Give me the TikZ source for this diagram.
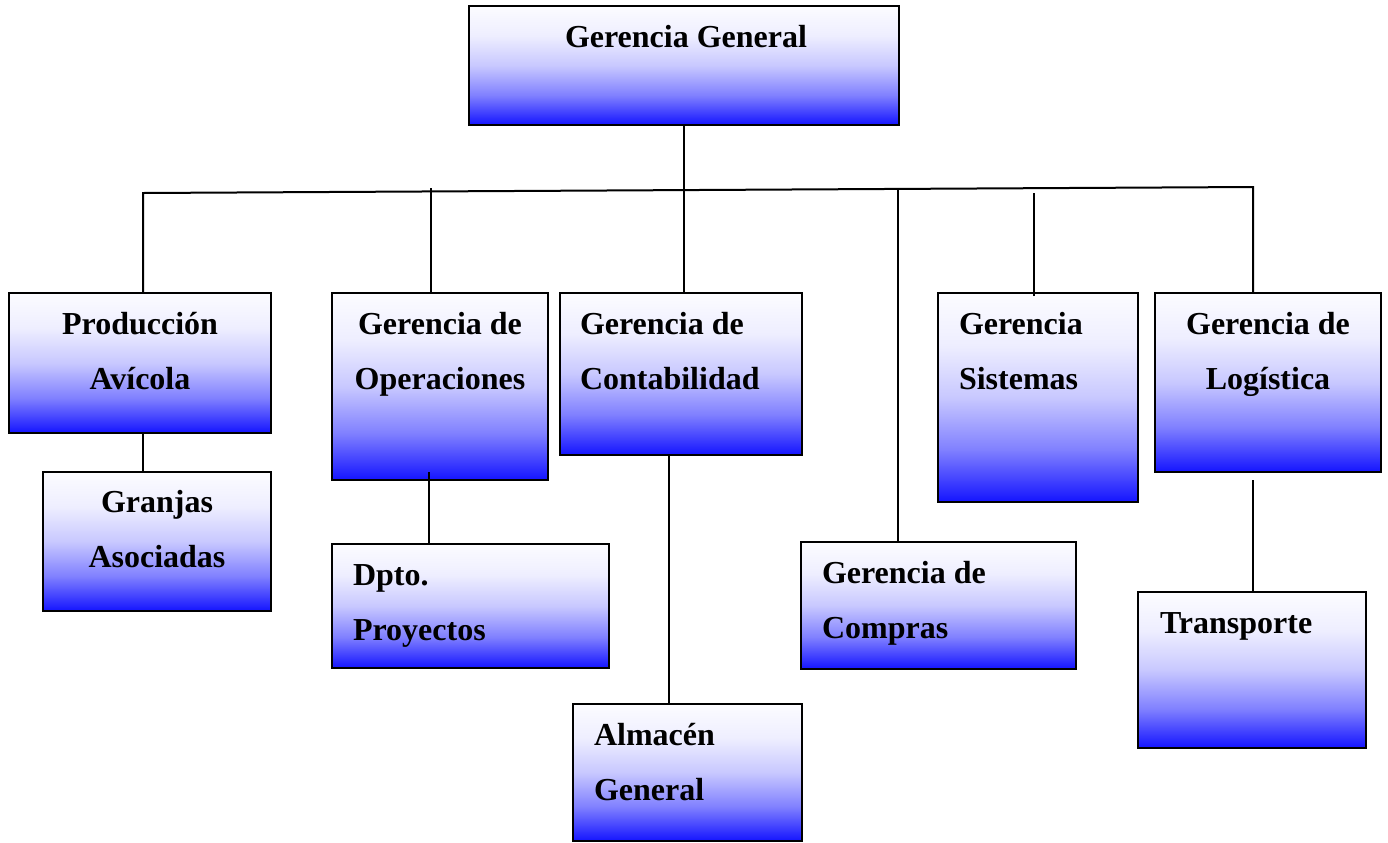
\documentclass[tikz,border=0pt]{standalone}
\usepackage{fontspec}
\setmainfont{Liberation Serif}
\usetikzlibrary{calc}
\definecolor{boxa}{RGB}{252,252,255}
\definecolor{boxb}{RGB}{238,238,255}
\definecolor{boxc}{RGB}{200,200,255}
\definecolor{boxd}{RGB}{128,128,255}
\definecolor{boxe}{RGB}{20,20,255}
\pgfdeclareverticalshading{boxshade}{100bp}{color(0bp)=(boxe); color(25bp)=(boxe); color(37.5bp)=(boxd); color(50bp)=(boxc); color(62.5bp)=(boxb); color(75bp)=(boxa); color(100bp)=(boxa)}
\newcommand\twoC[2]{\vtop{\baselineskip=27.5pt\halign{\hfil##\hfil\cr#1\cr#2\cr}}}
\newcommand\twoL[2]{\vtop{\baselineskip=27.5pt\halign{##\hfil\cr#1\cr#2\cr}}}
\begin{document}
\begin{tikzpicture}[x=0.5pt,y=-0.5pt,
  box/.style={draw=black, line width=1pt, rectangle, inner sep=0pt, outer sep=0pt,
    shading=boxshade},
  txt/.style={inner sep=0pt, outer sep=0pt, font=\fontsize{16}{19}\selectfont\bfseries},
  link/.style={draw=black, line width=1pt}]
\fill[white] (0,0) rectangle (1388,842);
\useasboundingbox (0,0) rectangle (1388,842);
% boxes
\node[box, minimum width=215pt, minimum height=59.5pt] (gg) at (684,65.5) {};
\node[box, minimum width=131pt, minimum height=70pt] (prod) at (140,363) {};
\node[box, minimum width=114pt, minimum height=69.5pt] (gran) at (157,541.5) {};
\node[box, minimum width=108pt, minimum height=93.5pt] (ops) at (440,386.5) {};
\node[box, minimum width=138.5pt, minimum height=62pt] (proy) at (470.5,606) {};
\node[box, minimum width=121pt, minimum height=81pt] (cont) at (681,374) {};
\node[box, minimum width=114.5pt, minimum height=68.5pt] (alm) at (687.5,772.5) {};
\node[box, minimum width=100pt, minimum height=104.5pt] (sis) at (1038,397.5) {};
\node[box, minimum width=137.5pt, minimum height=63.5pt] (comp) at (938.5,605.5) {};
\node[box, minimum width=113pt, minimum height=89.5pt] (log) at (1268,382.5) {};
\node[box, minimum width=114pt, minimum height=78pt] (trans) at (1252,670) {};
% texts
\node[txt, anchor=base] (tgg) at (686,47) {Gerencia General};
\node[txt, anchor=base] (tprod) at (140,334) {\twoC{Producción}{Avícola}};
\node[txt, anchor=base] (tgran) at (157,512) {\twoC{Granjas}{Asociadas}};
\node[txt, anchor=base] (tops) at (440,334) {\twoC{Gerencia de}{Operaciones}};
\node[txt, anchor=base west] (tproy) at (353,585) {\twoL{Dpto.}{Proyectos}};
\node[txt, anchor=base west] (tcont) at (580,334) {\twoL{Gerencia de}{Contabilidad}};
\node[txt, anchor=base west] (talm) at (594,745) {\twoL{Almacén}{General}};
\node[txt, anchor=base west] (tsis) at (959,334) {\twoL{Gerencia}{Sistemas}};
\node[txt, anchor=base west] (tcomp) at (822,583) {\twoL{Gerencia de}{Compras}};
\node[txt, anchor=base] (tlog) at (1268,334) {\twoC{Gerencia de}{Logística}};
\node[txt, anchor=base west] (ttrans) at (1160,633) {Transporte};
% connectors
\coordinate (busL) at (143,193);
\coordinate (busR) at (1253,187);
\draw[link] (gg.south -| 684,0) -- (684,292);
\draw[link] (prod.north -| busL) -- (busL) -- (busR) -- (busR |- log.north);
\draw[link] ([xshift=-4.5pt]ops.north) -- ++(0,-105);
\draw[link] ([xshift=-20.25pt]comp.north) -- ++(0,-354);
\draw[link] ([xshift=-2pt,yshift=-1.5pt]sis.north) -- ++(0,-103);
\draw[link] (prod.south -| busL) -- (gran.north -| busL);
\coordinate (opsdrop) at ($(ops.south)+(-11,-8)$);
\draw[link] (opsdrop) -- (opsdrop |- proy.north);
\draw[link] ([xshift=-6pt]cont.south) -- ([xshift=-6pt]cont.south |- alm.north);
\coordinate (logdrop) at ($(log.south -| busR)+(0,8)$);
\draw[link] (logdrop) -- (trans.north -| busR);
\end{tikzpicture}
\end{document}
